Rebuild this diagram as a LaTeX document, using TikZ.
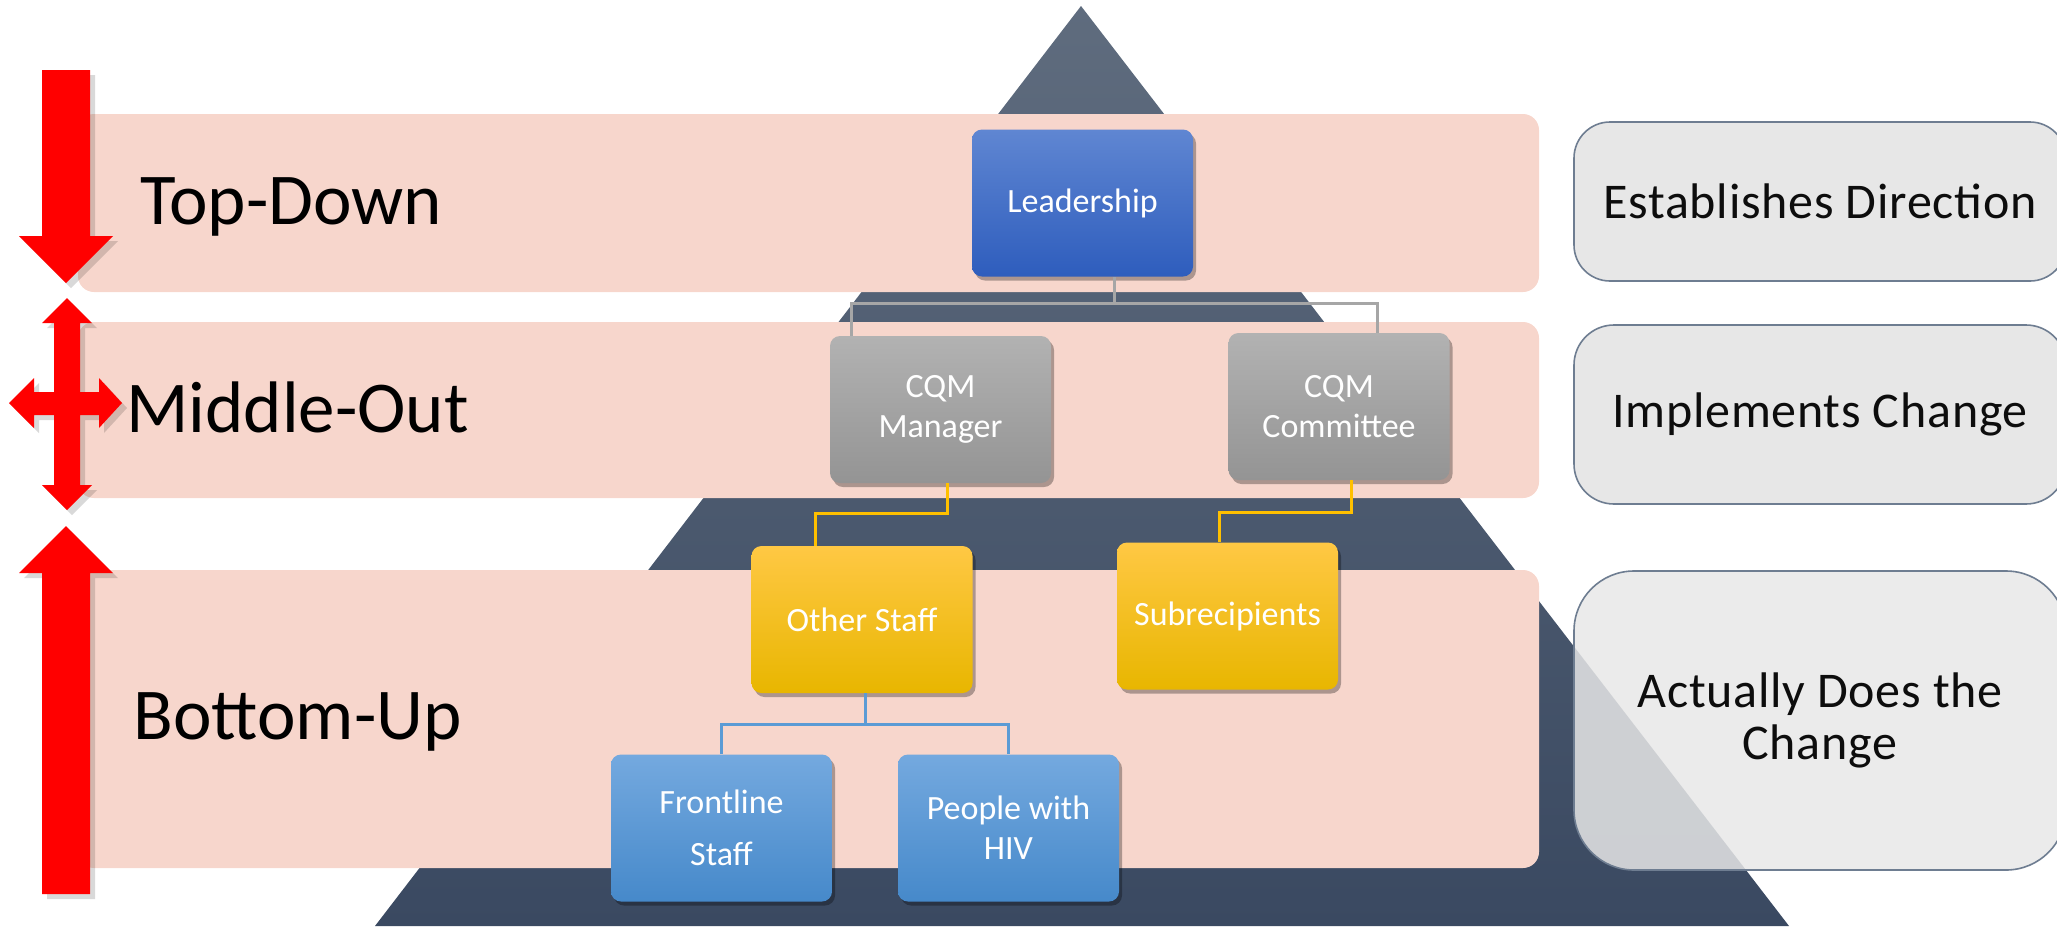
\documentclass[tikz,border=0pt]{standalone}
\usepackage{fontspec}
\setmainfont{Carlito}
\usetikzlibrary{shadows,calc}
\definecolor{bandc}{HTML}{F7D6CC}
\definecolor{tritop}{HTML}{5F6C7E}
\definecolor{tribot}{HTML}{3A4961}
\definecolor{rboxfill}{HTML}{E7E7E7}
\definecolor{rboxline}{HTML}{6E7D91}
\definecolor{redarr}{HTML}{FF0000}
\definecolor{leadtop}{HTML}{5F86D2}
\definecolor{leadbot}{HTML}{2E5DBD}
\definecolor{graytop}{HTML}{B2B2B2}
\definecolor{graybot}{HTML}{949494}
\definecolor{yeltop}{HTML}{FFC844}
\definecolor{yelbot}{HTML}{E8B600}
\definecolor{bluetop}{HTML}{74A9DF}
\definecolor{bluebot}{HTML}{4689CA}
\definecolor{glinec}{HTML}{A6A6A6}
\definecolor{ylinec}{HTML}{FFC000}
\definecolor{blinec}{HTML}{5B9BD5}
\tikzset{
  bandbox/.style={fill=bandc, rounded corners=8pt},
  orgbox/.style={rounded corners=5pt, minimum width=110.5pt, minimum height=73.5pt,
    inner sep=0pt, text=white, align=center, font=\fontsize{17}{20}\selectfont,
    drop shadow={shadow xshift=1.5pt, shadow yshift=-2pt, opacity=0.3, fill=black}},
  leadbox/.style={orgbox, top color=leadtop, bottom color=leadbot},
  graybox/.style={orgbox, top color=graytop, bottom color=graybot},
  yelbox/.style={orgbox, top color=yeltop, bottom color=yelbot},
  bluebox/.style={orgbox, top color=bluetop, bottom color=bluebot},
  rbox/.style={fill=rboxfill, draw=rboxline, line width=0.8pt, minimum width=246pt,
    inner sep=0pt, align=center, font=\fontsize{25}{28}\selectfont\addfontfeature{LetterSpace=1.5}, text=black!95},
  sidelabel/.style={anchor=west, inner sep=0pt, font=\fontsize{36.5}{40}\selectfont, text=black},
  gline/.style={draw=glinec, line width=1.5pt},
  yline/.style={draw=ylinec, line width=1.5pt},
  bline/.style={draw=blinec, line width=1.5pt},
  arrowshape/.style={fill=redarr},
  arrowshadow/.style={fill=black, opacity=0.15}
}
\begin{document}
\begin{tikzpicture}[x=0.5pt,y=-0.5pt]
\useasboundingbox (0,0) rectangle (2057,927);
\clip (0,0) rectangle (2057,927);
% pyramid
\shade[top color=tritop, bottom color=tribot] (1081,6) -- (1789,926) -- (375,926) -- cycle;
% bands
\fill[bandbox] (78,114) rectangle (1539,292);
\fill[bandbox] (78,322) rectangle (1539,498);
\fill[bandbox] (78,570) rectangle (1539,868);
% right boxes
\node[rbox, minimum height=79.5pt, rounded corners=18pt] (r1) at (1820,201.5) {Establishes Direction};
\node[rbox, minimum height=89.5pt, rounded corners=20pt] (r2) at (1820,414.5) {Implements Change};
\node[rbox, minimum height=149.5pt, rounded corners=30pt, fill opacity=0.85, text opacity=1] (r3) at (1820,720.5) {Actually Does the\\[-2pt]Change};
% red arrows: shadows
\begin{scope}[shift={(5,5)}]
\fill[arrowshadow] (42,70) -- (90,70) -- (90,236) -- (113,236) -- (66,283) -- (19,236) -- (42,236) -- cycle;
\fill[arrowshadow] (67,298) -- (92,323) -- (80,323) -- (80,392) -- (99,392) -- (99,378) -- (122,403) -- (99,428) -- (99,415) -- (80,415) -- (80,485) -- (92,485) -- (67,510) -- (42,485) -- (54,485) -- (54,415) -- (34,415) -- (34,428) -- (9,403) -- (34,378) -- (34,392) -- (54,392) -- (54,323) -- (42,323) -- cycle;
\fill[arrowshadow] (66,526) -- (113,573) -- (90,573) -- (90,894) -- (42,894) -- (42,573) -- (19,573) -- cycle;
\end{scope}
% red arrows
\fill[arrowshape] (42,70) -- (90,70) -- (90,236) -- (113,236) -- (66,283) -- (19,236) -- (42,236) -- cycle;
\fill[arrowshape] (67,298) -- (92,323) -- (80,323) -- (80,392) -- (99,392) -- (99,378) -- (122,403) -- (99,428) -- (99,415) -- (80,415) -- (80,485) -- (92,485) -- (67,510) -- (42,485) -- (54,485) -- (54,415) -- (34,415) -- (34,428) -- (9,403) -- (34,378) -- (34,392) -- (54,392) -- (54,323) -- (42,323) -- cycle;
\fill[arrowshape] (66,526) -- (113,573) -- (90,573) -- (90,894) -- (42,894) -- (42,573) -- (19,573) -- cycle;
% side labels
\node[sidelabel] (td) at (140,207) {Top-Down};
\node[sidelabel] (mo) at (126,407) {Middle-Out};
\node[sidelabel] (bu) at (133,722) {Bottom-Up};
% org boxes
\node[leadbox] (lead) at (1082.5,203) {Leadership};
\node[graybox] (mgr) at (940.5,409.5) {CQM\\Manager};
\node[graybox] (com) at (1339,406.5) {CQM\\Committee};
\node[yelbox] (ost) at (862,619.5) {Other Staff};
\node[yelbox] (sub) at (1227.5,616) {Subrecipients};
\node[bluebox] (fr) at (721.5,828) {Frontline\\[6pt]Staff};
\node[bluebox] (ppl) at (1008.5,828) {People with\\HIV};
% connectors
\coordinate (g1) at (1114,303);
\coordinate (g2) at (851,303);
\coordinate (g3) at (1377,303);
\draw[gline] (lead.south -| g1) -- (g1);
\draw[gline] (mgr.north -| g2) -- (g2) -- (g3) -- (com.north -| g3);
\coordinate (y1) at (947,513);
\coordinate (y2) at (815,513);
\draw[yline] (mgr.south -| y1) -- (y1) -- (y2) -- (ost.north -| y2);
\coordinate (y3) at (1351,512);
\coordinate (y4) at (1219,512);
\draw[yline] (com.south -| y3) -- (y3) -- (y4) -- (sub.north -| y4);
\coordinate (b1) at (865,724);
\draw[bline] (ost.south -| b1) -- (b1);
\draw[bline] (fr.north) |- (b1) -| (ppl.north);
\end{tikzpicture}
\end{document}
